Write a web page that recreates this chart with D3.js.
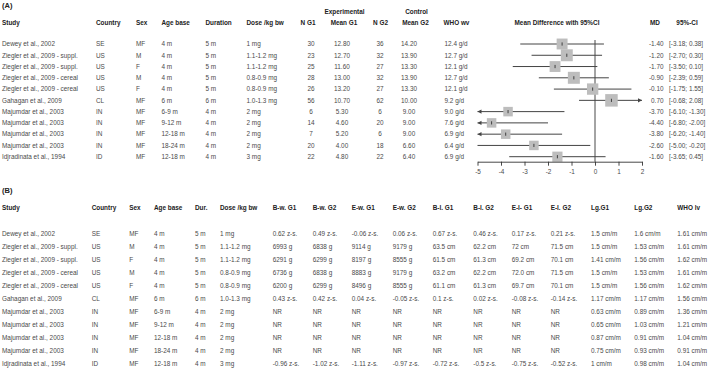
<!DOCTYPE html>
<html>
<head>
<meta charset="utf-8">
<script src="https://cdn.jsdelivr.net/npm/d3@7"></script>
<style>
  body { margin: 0; background: #fff; }
  svg text { font-family: "Liberation Sans", Arial, sans-serif; }
</style>
</head>
<body>
<script>
"use strict";
(function(){
  // ---- data ----
  const studies = ["Dewey et al., 2002", "Ziegler et al., 2009 - suppl.", "Ziegler et al., 2009 - suppl.",
    "Ziegler et al., 2009 - cereal", "Ziegler et al., 2009 - cereal", "Gahagan et al., 2009",
    "Majumdar et al., 2003", "Majumdar et al., 2003", "Majumdar et al., 2003", "Majumdar et al., 2003",
    "Idjradinata et al., 1994"];
  const country = ["SE","US","US","US","US","CL","IN","IN","IN","IN","ID"];
  const sex = ["MF","M","F","M","F","MF","MF","MF","MF","MF","MF"];
  const ageBase = ["4 m","4 m","4 m","4 m","4 m","6 m","6-9 m","9-12 m","12-18 m","18-24 m","12-18 m"];
  const duration = ["5 m","5 m","5 m","5 m","5 m","6 m","4 m","4 m","4 m","4 m","4 m"];
  const dose = ["1 mg","1.1-1.2 mg","1.1-1.2 mg","0.8-0.9 mg","0.8-0.9 mg","1.0-1.3 mg","2 mg","2 mg","2 mg","2 mg","3 mg"];
  const nG1 = [30,23,25,28,26,56,6,14,7,20,22];
  const meanG1 = ["12.80","12.70","11.60","13.00","13.20","10.70","5.30","4.60","5.20","4.00","4.80"];
  const nG2 = [36,32,27,32,27,62,6,20,6,18,22];
  const meanG2 = ["14.20","13.90","13.30","13.90","13.30","10.00","9.00","9.00","9.00","6.60","6.40"];
  const whoWv = ["12.4","12.7","12.1","12.7","12.1","9.2","9.0","7.6","6.9","6.4","6.9"];
  const md = [-1.40,-1.20,-1.70,-0.90,-0.10,0.70,-3.70,-4.40,-3.80,-2.60,-1.60];
  const ciLo = [-3.18,-2.70,-3.50,-2.39,-1.75,-0.68,-6.10,-6.80,-6.20,-5.00,-3.65];
  const ciHi = [0.38,0.30,0.10,0.59,1.55,2.08,-1.30,-2.00,-1.40,-0.20,0.45];
  const axisTicks = [-5,-4,-3,-2,-1,0,1,2];

  const bwG1 = ["0.62 z-s.","6993 g","6291 g","6736 g","6200 g","0.43 z-s.","NR","NR","NR","NR","-0.96 z-s."];
  const bwG2 = ["0.49 z-s.","6838 g","6299 g","6838 g","6299 g","0.42 z-s.","NR","NR","NR","NR","-1.02 z-s."];
  const ewG1 = ["-0.06 z-s.","9114 g","8197 g","8883 g","8496 g","0.04 z-s.","NR","NR","NR","NR","-1.11 z-s."];
  const ewG2 = ["0.06 z-s.","9179 g","8555 g","9179 g","8555 g","-0.05 z-s.","NR","NR","NR","NR","-0.97 z-s."];
  const blG1 = ["0.67 z-s.","63.5 cm","61.5 cm","63.2 cm","61.1 cm","0.1 z-s.","NR","NR","NR","NR","-0.72 z-s."];
  const blG2 = ["0.46 z-s.","62.2 cm","61.3 cm","62.2 cm","61.3 cm","0.02 z-s.","NR","NR","NR","NR","-0.5 z-s."];
  const elG1 = ["0.17 z-s.","72 cm","69.2 cm","72.0 cm","69.7 cm","-0.08 z-s.","NR","NR","NR","NR","-0.75 z-s."];
  const elG2 = ["0.21 z-s.","71.5 cm","70.1 cm","71.5 cm","70.1 cm","-0.14 z-s.","NR","NR","NR","NR","-0.52 z-s."];
  const lgG1 = ["1.5 cm/m","1.5 cm/m","1.41 cm/m","1.5 cm/m","1.5 cm/m","1.17 cm/m","0.63 cm/m","0.65 cm/m","0.87 cm/m","0.75 cm/m","1 cm/m"];
  const lgG2 = ["1.6 cm/m","1.53 cm/m","1.56 cm/m","1.53 cm/m","1.56 cm/m","1.17 cm/m","0.89 cm/m","1.03 cm/m","0.91 cm/m","0.93 cm/m","0.98 cm/m"];
  const whoLv = ["1.61 cm/m","1.61 cm/m","1.62 cm/m","1.61 cm/m","1.62 cm/m","1.56 cm/m","1.36 cm/m","1.21 cm/m","1.04 cm/m","0.91 cm/m","1.04 cm/m"];

  const fontSize = 6.4;
  const headCol = "#222", bodyCol = "#4a4a4a";

  const svg = d3.select("body").append("svg")
    .attr("width", 709)
    .attr("height", 371);

  const idx = d3.range(studies.length);
  const yA = d3.scaleLinear().domain([0, 10]).range([44, 156.7]);
  const yB = d3.scaleLinear().domain([0, 10]).range([233.3, 363.3]);

  // helper to write one column of text
  function column(values, x, yScale, anchor) {
    svg.append("g").selectAll("text")
      .data(values)
      .enter()
      .append("text")
        .attr("x", x)
        .attr("y", (d, i) => yScale(i))
        .attr("dy", "0.35em")
        .attr("text-anchor", anchor || "start")
        .attr("font-size", fontSize)
        .attr("fill", bodyCol)
        .text(d => d);
  }
  function header(label, x, y, anchor) {
    svg.append("text")
      .attr("x", x)
      .attr("y", y)
      .attr("dy", "0.35em")
      .attr("text-anchor", anchor || "start")
      .attr("font-size", fontSize)
      .attr("font-weight", "bold")
      .attr("fill", headCol)
      .text(label);
  }

  // ---------- panel A ----------
  svg.append("text").attr("x", 2).attr("y", 5).attr("dy", "0.35em")
    .attr("font-size", 7.5).attr("font-weight", "bold").attr("fill", headCol).text("(A)");

  const hA = 23;
  header("Study", 2, hA);
  header("Country", 96, hA);
  header("Sex", 136, hA);
  header("Age base", 161.5, hA);
  header("Duration", 205.5, hA);
  header("Dose /kg bw", 246.5, hA);
  header("N G1", 308, hA, "middle");
  header("Mean G1", 344, hA, "middle");
  header("N G2", 380.5, hA, "middle");
  header("Mean G2", 415.5, hA, "middle");
  header("WHO wv", 443.5, hA);
  header("Experimental", 344.5, 12, "middle");
  header("Control", 416.5, 12, "middle");
  header("Mean Difference with 95%CI", 557, hA, "middle");
  header("MD", 655, hA, "middle");
  header("95%-CI", 687, hA, "middle");

  column(studies, 2, yA);
  column(country, 96, yA);
  column(sex, 136, yA);
  column(ageBase, 161.5, yA);
  column(duration, 205.5, yA);
  column(dose, 246.5, yA);
  column(nG1, 311, yA, "middle");
  column(meanG1, 342, yA, "middle");
  column(nG2, 380, yA, "middle");
  column(meanG2, 409, yA, "middle");
  column(whoWv.map(d => d + " g/d"), 444.5, yA);
  column(md.map(d => d.toFixed(2)), 663.5, yA, "end");
  column(idx.map(i => "[" + ciLo[i].toFixed(2) + "; " + (ciHi[i] < 0 ? "" : " ") + ciHi[i].toFixed(2) + "]"), 669, yA);

  // forest plot
  const x = d3.scaleLinear().domain([-5, 2]).range([477.5, 642]);
  const axisY = 161.7;

  svg.append("line")
    .attr("x1", x(0)).attr("x2", x(0))
    .attr("y1", 40).attr("y2", axisY)
    .attr("stroke", "#333").attr("stroke-width", 0.9);

  const prec = idx.map(i => 1 / (ciHi[i] - ciLo[i]));
  const side = d3.scaleLinear().domain(d3.extent(prec)).range([9.5, 12.5]);

  const rows = svg.append("g").selectAll("g")
    .data(idx)
    .enter()
    .append("g");

  rows.append("line")
    .attr("x1", i => x(Math.max(ciLo[i], -5)))
    .attr("x2", i => x(Math.min(ciHi[i], 2)))
    .attr("y1", i => yA(i)).attr("y2", i => yA(i))
    .attr("stroke", "#444").attr("stroke-width", 1);

  rows.filter(i => ciLo[i] < -5).append("path")
    .attr("d", i => `M${x(-5)},${yA(i)} l4,-2.2 l0,4.4 z`)
    .attr("fill", "#444");
  rows.filter(i => ciHi[i] > 2).append("path")
    .attr("d", i => `M${x(2)},${yA(i)} l-4,-2.2 l0,4.4 z`)
    .attr("fill", "#444");

  rows.append("rect")
    .attr("x", i => x(md[i]) - side(prec[i]) / 2)
    .attr("y", i => yA(i) - side(prec[i]) / 2)
    .attr("width", i => side(prec[i]))
    .attr("height", i => side(prec[i]))
    .attr("fill", "#bdbdbd");

  rows.append("line")
    .attr("x1", i => x(md[i])).attr("x2", i => x(md[i]))
    .attr("y1", i => yA(i) - 1.6).attr("y2", i => yA(i) + 1.6)
    .attr("stroke", "#222").attr("stroke-width", 0.8);

  const xAxis = d3.axisBottom(x)
    .tickValues(axisTicks)
    .tickSize(4)
    .tickSizeOuter(0)
    .tickFormat(d => String(d));

  const ax = svg.append("g")
    .attr("transform", `translate(0,${axisY})`)
    .call(xAxis);
  ax.select(".domain").attr("stroke", "#333").attr("stroke-width", 0.9);
  ax.selectAll(".tick line").attr("stroke", "#333").attr("stroke-width", 0.9);
  ax.selectAll(".tick text")
    .attr("font-size", fontSize)
    .attr("font-family", "Liberation Sans, Arial, sans-serif")
    .attr("fill", bodyCol)
    .attr("y", 8);

  // ---------- panel B ----------
  svg.append("text").attr("x", 2).attr("y", 190).attr("dy", "0.35em")
    .attr("font-size", 7.5).attr("font-weight", "bold").attr("fill", headCol).text("(B)");

  const hB = 207.7;
  const colsB = [
    ["Study", 2, studies],
    ["Country", 91.7, country],
    ["Sex", 129.3, sex],
    ["Age base", 154, ageBase],
    ["Dur.", 195, duration],
    ["Dose /kg bw", 220, dose],
    ["B-w. G1", 272.7, bwG1],
    ["B-w. G2", 312.7, bwG2],
    ["E-w. G1", 351.7, ewG1],
    ["E-w. G2", 392.7, ewG2],
    ["B-l. G1", 432.7, blG1],
    ["B-l. G2", 473.3, blG2],
    ["E-l- G1", 511.7, elG1],
    ["E-l. G2", 550.7, elG2],
    ["Lg.G1", 591, lgG1],
    ["Lg.G2", 634.3, lgG2],
    ["WHO lv", 677.3, whoLv]
  ];
  colsB.forEach(c => {
    header(c[0], c[1], hB);
    column(c[2], c[1], yB);
  });
})()
</script>
</body>
</html>
